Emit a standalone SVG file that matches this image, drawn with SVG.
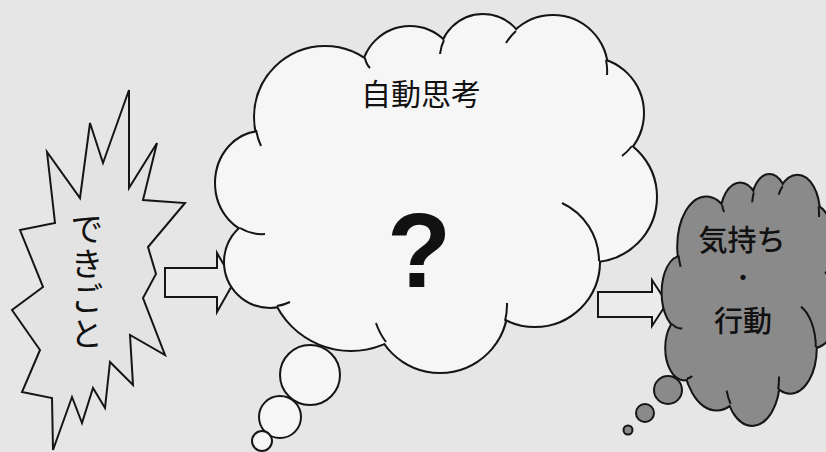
<svg xmlns="http://www.w3.org/2000/svg" width="826" height="452" viewBox="0 0 826 452">
<style>
.ln{stroke:#151515;stroke-width:2;stroke-linejoin:miter}
.jp{font-family:"Noto Sans CJK JP","Noto Sans CJK SC",sans-serif;fill:#111}
.wStroke{fill:#f6f6f6;stroke:#151515;stroke-width:4}
.wFill{fill:#f6f6f6;stroke:none}
.gStroke{fill:#8a8a8a;stroke:#151515;stroke-width:4}
.gFill{fill:#8a8a8a;stroke:none}
.tail{fill:none;stroke:#151515;stroke-width:2}
.arrow{fill:#ececec;stroke:#151515;stroke-width:2}
</style>
<defs>
<g id="bumps">
<circle cx="325" cy="117" r="70" vector-effect="non-scaling-stroke"/>
<circle cx="410" cy="75" r="48" vector-effect="non-scaling-stroke"/>
<circle cx="483" cy="58" r="43" vector-effect="non-scaling-stroke"/>
<circle cx="553" cy="70" r="54" vector-effect="non-scaling-stroke"/>
<circle cx="588" cy="113" r="55" vector-effect="non-scaling-stroke"/>
<circle cx="592" cy="197" r="64" vector-effect="non-scaling-stroke"/>
<circle cx="535" cy="262" r="64" vector-effect="non-scaling-stroke"/>
<circle cx="440" cy="305" r="67" vector-effect="non-scaling-stroke"/>
<circle cx="351" cy="267" r="83" vector-effect="non-scaling-stroke"/>
<circle cx="270" cy="262" r="45" vector-effect="non-scaling-stroke"/>
<ellipse cx="262" cy="183" rx="46" ry="51" vector-effect="non-scaling-stroke"/>
<ellipse cx="430" cy="190" rx="175" ry="125" vector-effect="non-scaling-stroke"/>
</g>
<path id="tails" vector-effect="non-scaling-stroke" d="M256,130 A70,70 0 0,0 261,146 M240,228 A46,51 0 0,0 265,234 M277,306 A45,45 0 0,0 290,302 M386,342 A67,67 0 0,1 376,323 M505,321 A67,67 0 0,0 507,303 M562,203 A64,64 0 0,1 599,261 M632,146 A55,55 0 0,1 622,156 M606,60 A54,54 0 0,1 607,75 M516,31 A54,54 0 0,0 506,43 M444,40 A43,43 0 0,0 440,54 M365,58 Q366,64 370,68"/>
</defs>
<rect x="0" y="0" width="826" height="452" fill="#e6e6e6"/>
<g id="connectors">
<polygon class="arrow" points="165,268 217,268 217,253 234,282 217,312 217,297 165,297"/>
<polygon class="arrow" points="598,292 652,292 652,280 667,303 652,326 652,317 598,317"/>
</g>
<g id="event">
<polygon fill="#e3e3e3" class="ln" points="129,90 129,188 157,143 143,200 185,203 148,247 156,274 143,298 165,355 130,335 133,385 110,362 105,408 93,388 82,423 72,397 53,450 52,398 22,392 40,350 12,310 43,287 20,230 55,223 47,152 80,198 90,123 103,163"/>
<text class="jp" x="87" y="282" font-size="33" letter-spacing="2" writing-mode="vertical-rl" text-anchor="middle">できごと</text>
</g>
<g id="thought">
<use href="#bumps" class="wStroke"/>
<use href="#bumps" class="wFill"/>
<use href="#tails" class="tail"/>
<circle cx="310" cy="375" r="30" class="ln" fill="#f6f6f6"/>
<circle cx="280" cy="417" r="21" class="ln" fill="#f6f6f6"/>
<circle cx="262" cy="441" r="10" class="ln" fill="#f6f6f6"/>
<text class="jp" x="421" y="105" font-size="30" text-anchor="middle">自動思考</text>
<text x="419" y="287" font-family="'Liberation Sans',Arial,sans-serif" font-weight="bold" font-size="105" text-anchor="middle" fill="#111">?</text>
</g>
<g id="feeling">
<g transform="matrix(0.4,0,0,0.7,576.2,164.5)">
<use href="#bumps" class="gStroke"/>
<use href="#bumps" class="gFill"/>
<use href="#tails" class="tail"/>
</g>
<circle cx="668" cy="390" r="14" class="ln" fill="#8a8a8a"/>
<circle cx="645" cy="413" r="9" class="ln" fill="#8a8a8a"/>
<circle cx="628" cy="430" r="4.5" class="ln" fill="#8a8a8a"/>
<text class="jp" font-size="29" font-weight="500" text-anchor="middle"><tspan x="742" y="251">気持ち</tspan><tspan x="743" y="285" font-size="21" font-weight="bold">・</tspan><tspan x="743" y="332">行動</tspan></text>
</g>
</svg>
